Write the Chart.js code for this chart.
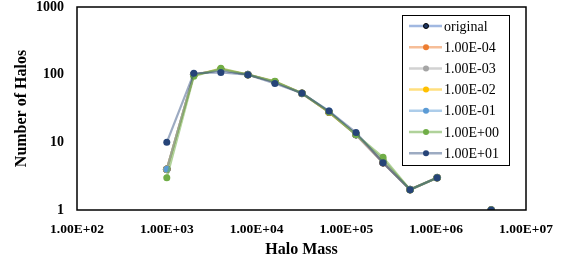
<!DOCTYPE html>
<html lang="en">
<head>
    <meta charset="UTF-8">
    <title>Number of Halos vs Halo Mass</title>
    <script src="https://cdn.jsdelivr.net/npm/chart.js"></script>
    <style>
        body {
            margin: 0;
            padding: 0;
            background-color: #ffffff;
        }
        #wrap {
            width: 561px;
            height: 259px;
        }
    </style>
</head>
<body>
    <div id="wrap"><canvas id="haloChart" width="561" height="259"></canvas></div>

    <script>
        // data
        var haloMass = [1000, 2000, 4000, 8000, 16000, 32000, 64000, 128000, 256000, 512000, 1024000, 2048000, 4096000];
        var seriesNames = ['original', '1.00E-04', '1.00E-03', '1.00E-02', '1.00E-01', '1.00E+00', '1.00E+01'];
        var original = [4, 100, 118, 100, 78, 53, 28, 13, 5, 2, 3, null, 1];
        var e_04 = [4, 100, 118, 100, 78, 53, 28, 13, 5, 2, 3, null, 1];
        var e_03 = [4, 100, 118, 100, 78, 53, 28, 13, 5, 2, 3, null, 1];
        var e_02 = [4, 98, 122, 100, 79, 53, 28, 13, 5.5, 2, 3, null, 1];
        var e_01 = [4, 100, 118, 100, 78, 53, 29, 13, 5.5, 2, 3, null, 1];
        var e_00 = [3, 95, 124, 100, 80, 53, 28, 13, 6, 2, 3, null, 1];
        var e_p1 = [10, 105, 108, 100, 74, 53, 29, 14, 5, 2, 3, null, 1];
        var xTicks = [1e2, 1e3, 1e4, 1e5, 1e6, 1e7];
        var xTickLabels = ['1.00E+02', '1.00E+03', '1.00E+04', '1.00E+05', '1.00E+06', '1.00E+07'];
        var yTicks = [1, 10, 100, 1000];
        var yTickLabels = ['1', '10', '100', '1000'];

        var allSeries = [original, e_04, e_03, e_02, e_01, e_00, e_p1];
        var markerColors = ['#1f3864', '#ed7d31', '#a5a5a5', '#ffc000', '#5b9bd5', '#70ad47', '#264478'];
        var lineColors = ['rgba(68,114,196,0.5)', 'rgba(237,125,49,0.5)', 'rgba(165,165,165,0.5)', 'rgba(255,192,0,0.5)',
            'rgba(91,155,213,0.5)', 'rgba(112,173,71,0.55)', 'rgba(38,68,120,0.45)'];

        var datasets = allSeries.map(function (vals, i) {
            return {
                label: seriesNames[i],
                data: vals.map(function (v, j) { return { x: haloMass[j], y: v }; }),
                borderColor: lineColors[i],
                backgroundColor: markerColors[i],
                pointBackgroundColor: markerColors[i],
                pointBorderColor: i === 0 ? '#000000' : markerColors[i],
                pointBorderWidth: i === 0 ? 1 : 0,
                pointRadius: 3.5,
                borderWidth: 2.2,
                showLine: true,
                spanGaps: false,
                order: allSeries.length - 1 - i
            };
        });

        var serif = "'Liberation Serif', 'Times New Roman', serif";

        // box around plot area + legend drawn inside it
        var boxAndLegend = {
            id: 'boxAndLegend',
            afterDatasetsDraw: function (chart) {
                var ctx = chart.ctx;
                var a = chart.chartArea;
                ctx.save();
                ctx.strokeStyle = '#000000';
                ctx.lineWidth = 1.5;
                ctx.strokeRect(a.left, a.top, a.right - a.left, a.bottom - a.top);

                var lx = a.right - 124, ly = a.top + 8, lw = 107, lh = 150;
                ctx.fillStyle = '#ffffff';
                ctx.fillRect(lx, ly, lw, lh);
                ctx.lineWidth = 1;
                ctx.strokeRect(lx + 0.5, ly + 0.5, lw, lh);
                ctx.font = '14px ' + serif;
                ctx.textBaseline = 'middle';
                chart.data.datasets.forEach(function (ds, i) {
                    var y = ly + 11 + i * 21.2;
                    ctx.strokeStyle = ds.borderColor;
                    ctx.lineWidth = 2.5;
                    ctx.beginPath();
                    ctx.moveTo(lx + 7, y);
                    ctx.lineTo(lx + 40, y);
                    ctx.stroke();
                    ctx.beginPath();
                    ctx.arc(lx + 24, y, i === 0 ? 2.5 : 3, 0, Math.PI * 2);
                    ctx.fillStyle = ds.pointBackgroundColor;
                    ctx.fill();
                    if (i === 0) {
                        ctx.strokeStyle = '#000000';
                        ctx.lineWidth = 1;
                        ctx.stroke();
                    }
                    ctx.fillStyle = '#000000';
                    ctx.fillText(ds.label, lx + 42, y + 1);
                });
                ctx.restore();
            }
        };

        new Chart(document.getElementById('haloChart'), {
            type: 'scatter',
            data: { datasets: datasets },
            options: {
                responsive: false,
                animation: false,
                layout: { padding: { top: 7, right: 35, left: 0, bottom: 0 } },
                plugins: {
                    legend: { display: false },
                    tooltip: { enabled: false }
                },
                scales: {
                    x: {
                        type: 'logarithmic',
                        min: 1e2,
                        max: 1e7,
                        afterBuildTicks: function (s) { s.ticks = xTicks.map(function (v) { return { value: v }; }); },
                        afterFit: function (s) {
                            s.height = 49;
                            s.paddingLeft = 0;
                            s.paddingRight = 0;
                        },
                        grid: { display: false, drawTicks: false },
                        border: { display: false },
                        ticks: {
                            autoSkip: false,
                            maxRotation: 0,
                            padding: 11,
                            color: '#000000',
                            font: { family: serif, size: 13.5, weight: 'bold' },
                            callback: function (v) { var k = xTicks.indexOf(v); return k >= 0 ? xTickLabels[k] : ''; }
                        },
                        title: {
                            display: true,
                            text: 'Halo Mass',
                            color: '#000000',
                            font: { family: serif, size: 16, weight: 'bold' },
                            padding: { top: 0, bottom: 0 }
                        }
                    },
                    y: {
                        type: 'logarithmic',
                        min: 1,
                        max: 1000,
                        afterBuildTicks: function (s) { s.ticks = yTicks.map(function (v) { return { value: v }; }); },
                        afterFit: function (s) {
                            s.width = 77;
                            s.paddingTop = 0;
                            s.paddingBottom = 0;
                        },
                        grid: { display: false, drawTicks: false },
                        border: { display: false },
                        ticks: {
                            autoSkip: false,
                            padding: 13,
                            color: '#000000',
                            font: { family: serif, size: 14, weight: 'bold' },
                            callback: function (v) { var k = yTicks.indexOf(v); return k >= 0 ? yTickLabels[k] : ''; }
                        },
                        title: {
                            display: true,
                            text: 'Number of Halos',
                            color: '#000000',
                            font: { family: serif, size: 16, weight: 'bold' },
                            padding: { top: 12, bottom: 0 }
                        }
                    }
                }
            },
            plugins: [boxAndLegend]
        });
    </script>
</body>
</html>
